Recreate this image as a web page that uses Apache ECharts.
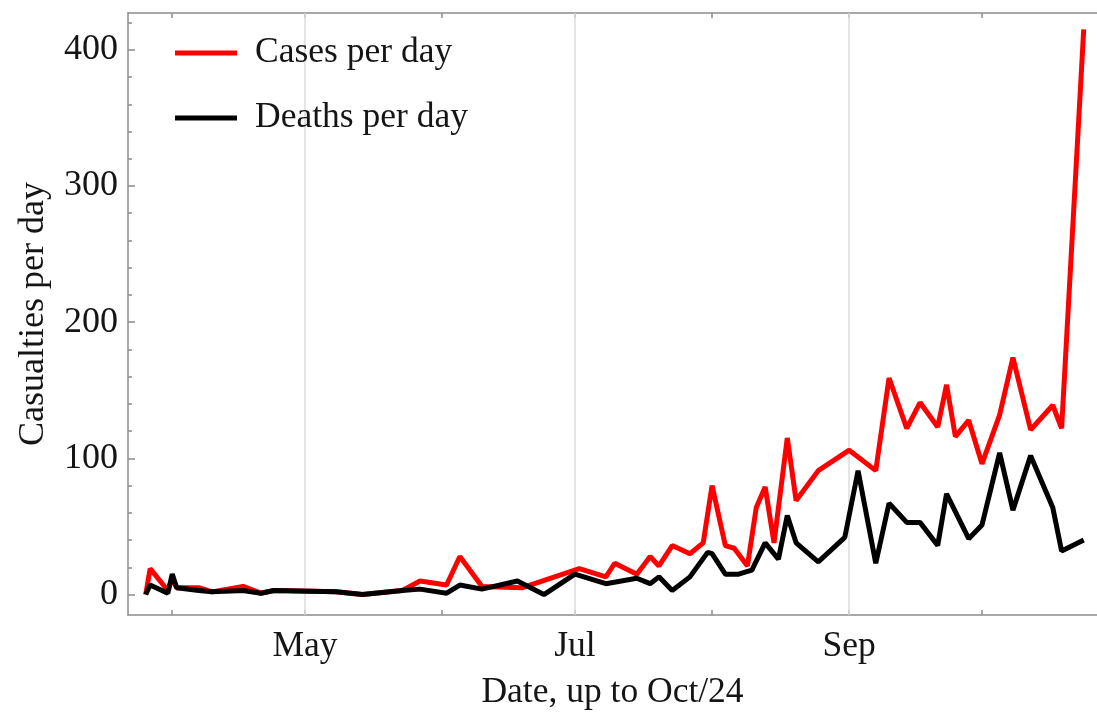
<!DOCTYPE html>
<html>
<head>
<meta charset="utf-8">
<script src="https://cdn.jsdelivr.net/npm/echarts@6/dist/echarts.min.js"></script>
<style>
html,body{margin:0;padding:0;background:#fff;}
#chart{width:1097px;height:718px;}
</style>
</head>
<body>
<div id="chart"></div>
<script>
const casesDates = ['2020-03-26','2020-03-27','2020-03-31','2020-04-01','2020-04-02','2020-04-07','2020-04-10','2020-04-17','2020-04-21','2020-04-24','2020-05-08','2020-05-14','2020-05-23','2020-05-27','2020-06-02','2020-06-05','2020-06-10','2020-06-19','2020-07-02','2020-07-08','2020-07-10','2020-07-15','2020-07-18','2020-07-20','2020-07-23','2020-07-27','2020-07-30','2020-08-01','2020-08-04','2020-08-06','2020-08-09','2020-08-11','2020-08-13','2020-08-15','2020-08-18','2020-08-20','2020-08-25','2020-09-01','2020-09-07','2020-09-10','2020-09-14','2020-09-17','2020-09-21','2020-09-23','2020-09-25','2020-09-28','2020-10-01','2020-10-05','2020-10-08','2020-10-12','2020-10-17','2020-10-19','2020-10-24'];
const casesValues = [0,19,3,12,5,5,2,6,1,3,2,0,3,10,7,28,6,5,19,13,23,15,28,21,36,30,38,80,36,34,21,64,79,38,115,69,91,106,91,159,122,141,123,154,116,128,96,132,174,121,139,122,415];

const deathsDates = ['2020-03-26','2020-03-27','2020-03-31','2020-04-01','2020-04-02','2020-04-07','2020-04-10','2020-04-17','2020-04-21','2020-04-24','2020-05-08','2020-05-14','2020-05-23','2020-05-27','2020-06-02','2020-06-05','2020-06-10','2020-06-18','2020-06-24','2020-07-01','2020-07-08','2020-07-15','2020-07-18','2020-07-20','2020-07-23','2020-07-27','2020-07-31','2020-08-01','2020-08-04','2020-08-07','2020-08-10','2020-08-13','2020-08-16','2020-08-18','2020-08-20','2020-08-25','2020-08-31','2020-09-03','2020-09-07','2020-09-10','2020-09-14','2020-09-17','2020-09-21','2020-09-23','2020-09-28','2020-10-01','2020-10-05','2020-10-08','2020-10-12','2020-10-17','2020-10-19','2020-10-24'];
const deathsValues = [0,7,1,15,5,3,2,3,1,3,2,0,3,4,1,7,4,10,0,15,8,12,8,13,3,13,31,30,15,15,18,38,26,58,38,24,42,91,23,67,53,53,36,74,41,51,104,62,102,64,32,40];

const monthTickDates = ['2020-04-01','2020-05-01','2020-06-01','2020-07-01','2020-08-01','2020-09-01','2020-10-01'];
const monthLabelDates = ['2020-05-01','2020-07-01','2020-09-01'];
const monthNames = ['Jan','Feb','Mar','Apr','May','Jun','Jul','Aug','Sep','Oct','Nov','Dec'];
const yMajorTicks = [0,100,200,300,400];
const yMinorTicks = [0,20,40,60,80,100,120,140,160,180,200,220,240,260,280,300,320,340,360,380,400,420];

function ts(s){const p=s.split('-').map(Number);return Date.UTC(p[0],p[1]-1,p[2]);}

const FONT = '"Liberation Serif", "DejaVu Serif", serif';
const TXT = '#151515';
const axisLineStyle = {color:'#8c8c8c', width:1.5};
const xMin = ts('2020-03-22'), xMax = ts('2020-10-27');

const chart = echarts.init(document.getElementById('chart'));
chart.setOption({
  animation:false,
  backgroundColor:'#fff',
  grid:{left:128, right:0, top:13, bottom:103},
  legend:{
    orient:'vertical', left:170, top:30,
    itemWidth:62, itemHeight:5, itemGap:29,
    icon:'rect',
    textStyle:{fontFamily:FONT, fontSize:35.5, color:TXT, padding:[0,0,0,13]},
    data:['Cases per day','Deaths per day']
  },
  xAxis:[{
    type:'value', position:'bottom', min:xMin, max:xMax, scale:true,
    axisLine:{show:true, onZero:false, lineStyle:axisLineStyle},
    axisTick:{show:true, inside:true, length:5, lineStyle:axisLineStyle, customValues:monthTickDates.map(ts)},
    axisLabel:{show:true, customValues:monthLabelDates.map(ts), margin:14,
      fontFamily:FONT, fontSize:35.5, color:TXT,
      formatter:function(v){return monthNames[new Date(v).getUTCMonth()];}},
    splitLine:{show:false},
    name:'Date, up to Oct/24', nameLocation:'middle', nameGap:60,
    nameTextStyle:{fontFamily:FONT, fontSize:35.5, color:TXT}
  },{
    type:'value', position:'top', min:xMin, max:xMax, scale:true,
    axisLine:{show:true, onZero:false, lineStyle:axisLineStyle},
    axisTick:{show:true, inside:true, length:5, lineStyle:axisLineStyle, customValues:monthTickDates.map(ts)},
    axisLabel:{show:false},
    splitLine:{show:false}
  }],
  yAxis:[{
    type:'value', position:'left', min:-15, max:427,
    axisLine:{show:true, onZero:false, lineStyle:axisLineStyle},
    axisTick:{show:true, inside:true, length:7, lineStyle:axisLineStyle, customValues:yMajorTicks},
    axisLabel:{show:true, customValues:yMajorTicks, margin:10,
      fontFamily:FONT, fontSize:36, color:TXT},
    splitLine:{show:false},
    name:'Casualties per day', nameLocation:'middle', nameGap:76,
    nameTextStyle:{fontFamily:FONT, fontSize:36, color:TXT}
  },{
    type:'value', position:'left', min:-15, max:427,
    axisLine:{show:false},
    axisTick:{show:true, inside:true, length:4, lineStyle:axisLineStyle, customValues:yMinorTicks},
    axisLabel:{show:false},
    splitLine:{show:false}
  }],
  series:[{
    name:'Cases per day', type:'line', xAxisIndex:0, yAxisIndex:0,
    data:casesDates.map((d,i)=>[ts(d), casesValues[i]]),
    showSymbol:false, symbol:'none',
    lineStyle:{color:'#ff0000', width:5}, itemStyle:{color:'#ff0000'},
    z:3,
    markLine:{
      silent:true, symbol:['none','none'], z:1,
      label:{show:false},
      lineStyle:{color:'#dcdcdc', width:1.5, type:'solid'},
      data:monthLabelDates.map(d=>({xAxis:ts(d)}))
    }
  },{
    name:'Deaths per day', type:'line', xAxisIndex:0, yAxisIndex:0,
    data:deathsDates.map((d,i)=>[ts(d), deathsValues[i]]),
    showSymbol:false, symbol:'none',
    lineStyle:{color:'#000000', width:5}, itemStyle:{color:'#000000'},
    z:4
  }]
});
</script>
</body>
</html>
